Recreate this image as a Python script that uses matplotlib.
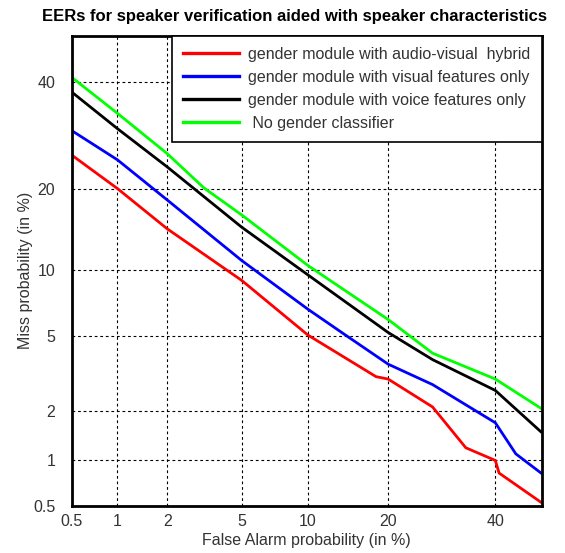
import numpy as np
import matplotlib.pyplot as plt
from statistics import NormalDist

plt.rcParams['font.family'] = ['Liberation Sans', 'DejaVu Sans']

# DET curves, values (both axes in %)
fa_hybrid = [0.5, 1, 2, 5, 10, 18.2, 20, 27.5, 33.9, 40, 40.8, 49.9]
miss_hybrid = [25.6, 20.1, 14.5, 9.0, 5.05, 3.09, 3.0, 2.1, 1.2, 1.0, 0.83, 0.53]

fa_visual = [0.5, 1, 2, 5, 10, 13.8, 20, 27.5, 40, 44.4, 49.9]
miss_visual = [30.1, 24.8, 18.4, 10.9, 6.7, 5.15, 3.6, 2.8, 1.7, 1.1, 0.83]

fa_voice = [0.5, 1, 2, 5, 10, 20, 27.5, 40, 49.9]
miss_voice = [37.8, 30.5, 23.6, 14.7, 9.5, 5.2, 3.8, 2.6, 1.5]

fa_none = [0.5, 1, 2, 3.2, 5, 10, 20, 27.5, 40, 49.9]
miss_none = [40.9, 33.5, 25.9, 20.2, 16.3, 10.4, 6.0, 4.1, 3.0, 2.06]

labels = ['gender module with audio-visual  hybrid',
          'gender module with visual features only',
          'gender module with voice features only',
          ' No gender classifier']
colors = ['#ff0000', '#0000ff', '#000000', '#00ff00']

ticks = [0.5, 1, 2, 5, 10, 20, 40]
tick_labels = ['0.5', '1', '2', '5', '10', '20', '40']

# normal deviate scale
_nd = NormalDist()
_ppf = np.frompyfunc(_nd.inv_cdf, 1, 1)
_cdf = np.frompyfunc(_nd.cdf, 1, 1)


def to_dev(p):
    p = np.clip(np.asarray(p, dtype=float) / 100.0, 1e-9, 1 - 1e-9)
    return np.asarray(_ppf(p), dtype=float)


def from_dev(d):
    return np.asarray(_cdf(np.asarray(d, dtype=float)), dtype=float) * 100.0


fig = plt.figure(figsize=(5.65, 5.53), dpi=100)
ax = fig.add_axes([72 / 565, 47 / 553, 469.5 / 565, 470.5 / 553])
ax.set_xscale('function', functions=(to_dev, from_dev))
ax.set_yscale('function', functions=(to_dev, from_dev))

series = [(fa_hybrid, miss_hybrid), (fa_visual, miss_visual),
          (fa_voice, miss_voice), (fa_none, miss_none)]
for (fa, miss), c, lab in zip(series, colors, labels):
    ax.plot(fa, miss, color=c, lw=2.0, label=lab, solid_joinstyle='miter')

ax.set_xlim(0.5, 50)
ax.set_ylim(0.5, 50)
ax.set_xticks(ticks)
ax.set_xticklabels(tick_labels)
ax.set_yticks(ticks)
ax.set_yticklabels(tick_labels)
ax.minorticks_off()
ax.tick_params(length=0, labelsize=11.5, labelcolor='#333333')
ax.tick_params(axis='x', pad=6)
ax.tick_params(axis='y', pad=12)
ax.grid(True, color='black', lw=0.8, linestyle=(0, (2.5, 2.5)))
for s in ax.spines.values():
    s.set_linewidth(2)

ax.set_xlabel('False Alarm probability (in %)', fontsize=11.5, color='#333333', labelpad=3)
ax.set_ylabel('Miss probability (in %)', fontsize=11.5, color='#333333', labelpad=0)

leg = ax.legend(loc='upper right', borderaxespad=0, fancybox=False,
                edgecolor='black', framealpha=1, fontsize=11.5,
                handlelength=3.5, handletextpad=0.55, labelspacing=0.5,
                borderpad=0.7)
leg.get_frame().set_linewidth(1.2)
for t in leg.get_texts():
    t.set_color('#333333')
for h in leg.legend_handles:
    h.set_linewidth(2.4)

fig.text(295 / 565, 1 - 17 / 553,
         'EERs for speaker verification aided with speaker characteristics',
         ha='center', va='center', fontsize=12, fontweight='bold')

fig.savefig('out.png', dpi=100)
